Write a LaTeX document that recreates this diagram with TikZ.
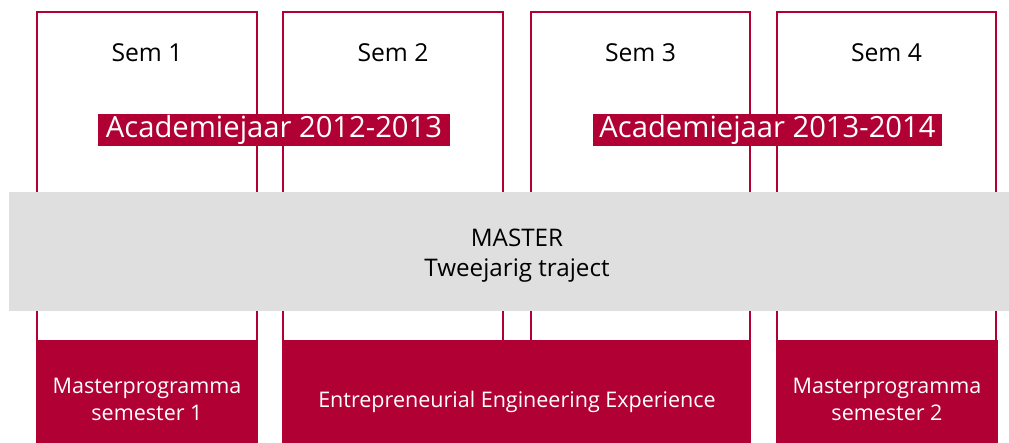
\documentclass[tikz,border=0pt]{standalone}
\usepackage{fontspec}
\setmainfont{Open Sans}
\definecolor{tured}{RGB}{176,0,52}
\definecolor{bandgray}{RGB}{223,223,223}
\begin{document}
\begin{tikzpicture}[x=1bp,y=-1bp,
  colbox/.style={draw=tured,line width=2bp},
  redbox/.style={fill=tured,draw=none},
  semtext/.style={font=\fontsize{24.8}{28}\selectfont,text=black,inner sep=0pt},
  yearlabel/.style={fill=tured,text=white,font=\fontsize{29.3}{32}\selectfont,inner sep=0pt,minimum height=32bp},
  whitetext/.style={text=white,font=\fontsize{21.6}{27}\selectfont,align=center,inner sep=0pt},
  bandtext/.style={text=black,font=\fontsize{24.3}{30}\selectfont,align=center,inner sep=0pt}]
\useasboundingbox (0,0) rectangle (1009,443);
\clip (0,0) rectangle (1009,443);
% columns
\draw[colbox] (37,12) rectangle (257,443);
\draw[colbox] (283,12) rectangle (503,443);
\draw[colbox] (531,12) rectangle (750,443);
\draw[colbox] (777,12) rectangle (996,443);
\node[semtext] (s1) at (147,53) {Sem 1};
\node[semtext] (s2) at (393,53) {Sem 2};
\node[semtext] (s3) at (640.5,53) {Sem 3};
\node[semtext] (s4) at (886.5,53) {Sem 4};
% gray band
\fill[bandgray] (9,192) rectangle (1009,311);
\node[bandtext] (master) at (517,255.5) {MASTER\\Tweejarig traject};
% red bottom boxes
\fill[redbox] (36,340) rectangle (258,443);
\fill[redbox] (282,340) rectangle (751,443);
\fill[redbox] (776,340) rectangle (998,443);
\node[whitetext] (mp1) at (147,399) {Masterprogramma\\semester 1};
\node[whitetext] (eee) at (517,402) {Entrepreneurial Engineering Experience};
\node[whitetext] (mp2) at (887,399) {Masterprogramma\\semester 2};
% year labels
\node[yearlabel,minimum width=352bp] (y1) at (274,130) {Academiejaar 2012-2013};
\node[yearlabel,minimum width=349bp] (y2) at (767.5,130) {Academiejaar 2013-2014};
\end{tikzpicture}
\end{document}
